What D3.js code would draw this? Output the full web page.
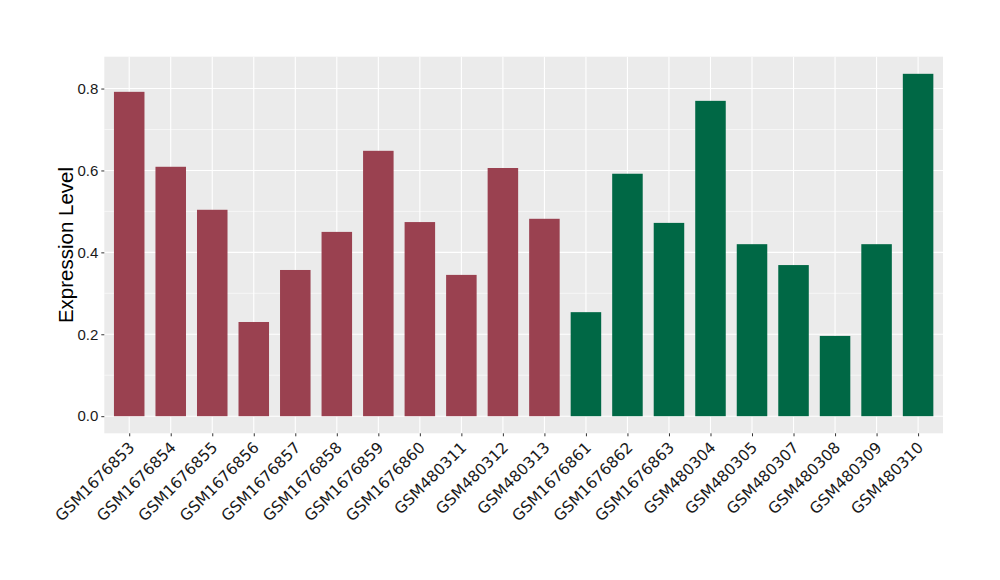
<!DOCTYPE html>
<html><head><meta charset="utf-8">
<script src="https://cdn.jsdelivr.net/npm/d3@7"></script>
<style>body{margin:0;background:#fff}</style>
</head><body><svg id="c" width="1000" height="580"></svg>
<script>
const categories = ["GSM1676853","GSM1676854","GSM1676855","GSM1676856","GSM1676857","GSM1676858","GSM1676859","GSM1676860","GSM480311","GSM480312","GSM480313","GSM1676861","GSM1676862","GSM1676863","GSM480304","GSM480305","GSM480307","GSM480308","GSM480309","GSM480310"];
const values = [0.792,0.609,0.504,0.230,0.357,0.450,0.648,0.474,0.345,0.606,0.482,0.254,0.592,0.472,0.770,0.420,0.369,0.196,0.420,0.836];
const groups = ["A","A","A","A","A","A","A","A","A","A","A","B","B","B","B","B","B","B","B","B"];
const groupColors = {A:"#9A4150", B:"#006845"};
const yTicks = [0,0.2,0.4,0.6,0.8];
const yMinor = [0.1,0.3,0.5,0.7];

const svg = d3.select("#c");
const L=104.3, R=943, T=56.7, B=433.3;
const maxV = d3.max(values);
const y = d3.scaleLinear().domain([-0.05*maxV, maxV*1.05]).range([B,T]);
const n = categories.length;
const unit = (R-L)/(n-1+1.2);
const x = d3.scalePoint().domain(categories).range([L+0.6*unit, R-0.6*unit]);
const bw = unit*0.735;

svg.append("rect").attr("x",L).attr("y",T).attr("width",R-L).attr("height",B-T).attr("fill","#EBEBEB");
svg.selectAll(".ymin").data(yMinor).enter().append("line")
  .attr("x1",L).attr("x2",R).attr("y1",d=>y(d)).attr("y2",d=>y(d)).attr("stroke","#fff").attr("stroke-width",0.55);
svg.selectAll(".ymaj").data(yTicks).enter().append("line")
  .attr("x1",L).attr("x2",R).attr("y1",d=>y(d)).attr("y2",d=>y(d)).attr("stroke","#fff").attr("stroke-width",1.1);
svg.selectAll(".xmaj").data(categories).enter().append("line")
  .attr("x1",d=>x(d)).attr("x2",d=>x(d)).attr("y1",T).attr("y2",B).attr("stroke","#fff").attr("stroke-width",1.1);

svg.selectAll(".bar").data(categories).enter().append("rect")
  .attr("x",d=>x(d)-bw/2).attr("width",bw)
  .attr("y",(d,i)=>y(values[i])).attr("height",(d,i)=>y(0)-y(values[i]))
  .attr("fill",(d,i)=>groupColors[groups[i]]);

// y axis
const ya = svg.append("g").attr("transform",`translate(${L},0)`)
  .call(d3.axisLeft(y).tickValues(yTicks).tickFormat(d3.format(".1f")).tickSize(3).tickPadding(3));
ya.select(".domain").remove();
ya.selectAll("line").attr("stroke","#333");
ya.selectAll("text").attr("fill","#1a1a1a").style("font-family","Liberation Sans, Arial, sans-serif").style("font-size","15px");

// x axis
const xa = svg.append("g").attr("transform",`translate(0,${B})`)
  .call(d3.axisBottom(x).tickSize(3).tickFormat(""));
xa.select(".domain").remove();
xa.selectAll("line").attr("stroke","#333");
svg.selectAll(".xl").data(categories).enter().append("text")
  .attr("transform",d=>`translate(${x(d)-2},${B+7}) rotate(-45)`)
  .attr("text-anchor","end").attr("dy","0.75em")
  .style("font-family","DejaVu Sans, sans-serif").style("font-size","15.5px").attr("fill","#1a1a1a")
  .text(d=>d);

svg.append("text").attr("transform",`translate(72.5,${(T+B)/2}) rotate(-90)`)
  .attr("text-anchor","middle").style("font-family","Liberation Sans, Arial, sans-serif").style("font-size","20.5px")
  .attr("fill","#000").text("Expression Level");
</script></body></html>
